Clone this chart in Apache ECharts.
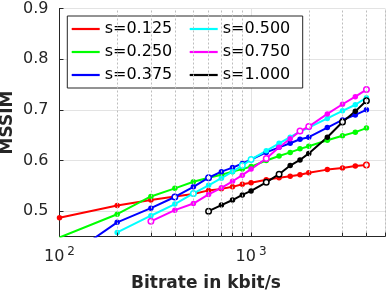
<!DOCTYPE html>
<html><head><meta charset="utf-8">
<script src="https://cdn.jsdelivr.net/npm/echarts@6/dist/echarts.min.js"></script>
<style>html,body{margin:0;padding:0;background:#fff}#c{width:386px;height:293px}</style>
</head><body><div id="c"></div>
<script>
// ---------- data ----------
const seriesNames = ['s=0.125','s=0.250','s=0.375','s=0.500','s=0.750','s=1.000'];
const seriesColors = ['#ff0000','#00ff00','#0000ff','#00ffff','#ff00ff','#000000'];
const legendOrder = ['s=0.125','s=0.500','s=0.250','s=0.750','s=0.375','s=1.000'];

const bitrates125 = [100,200,300,400,500,600,700,800,900,1000,1200,1400,1600,1800,2000,2500,3000,3500,4000];
const mssim125    = [0.487,0.511,0.522,0.529,0.534,0.541,0.544,0.548,0.553,0.556,0.562,0.566,0.569,0.572,0.576,0.582,0.585,0.589,0.591];
const hollow125   = [4000];

const bitrates250 = [100,200,300,400,500,600,700,800,900,1000,1200,1400,1600,1800,2000,2500,3000,3500,4000];
const mssim250    = [0.448,0.494,0.529,0.545,0.558,0.566,0.572,0.578,0.583,0.588,0.600,0.609,0.616,0.623,0.628,0.640,0.649,0.656,0.664];
const hollow250   = [];

const bitrates375 = [100,200,300,400,500,600,700,800,900,1000,1200,1400,1600,1800,2000,2500,3000,3500,4000];
const mssim375    = [0.399,0.478,0.506,0.528,0.548,0.566,0.578,0.586,0.594,0.602,0.616,0.626,0.634,0.642,0.646,0.665,0.680,0.690,0.700];
const hollow375   = [400,600];

const bitrates500 = [200,300,400,500,600,700,800,900,1000,1200,1400,1600,1800,2000,2500,3000,3500,4000];
const mssim500    = [0.458,0.491,0.514,0.535,0.551,0.565,0.578,0.590,0.602,0.619,0.634,0.646,0.657,0.665,0.683,0.698,0.710,0.724];
const hollow500   = [500,900,1000];

const bitrates750 = [300,400,500,600,700,800,900,1000,1200,1400,1600,1800,2000,2500,3000,3500,4000];
const mssim750    = [0.480,0.502,0.515,0.533,0.546,0.559,0.571,0.583,0.604,0.626,0.643,0.658,0.667,0.692,0.711,0.726,0.740];
const hollow750   = [300,1200,1800,2000,4000];

const bitrates1000 = [600,700,800,900,1000,1200,1400,1600,1800,2000,2500,3000,3500,4000];
const mssim1000    = [0.500,0.512,0.522,0.532,0.540,0.557,0.573,0.590,0.601,0.614,0.646,0.676,0.697,0.718];
const hollow1000   = [600,1200,1400,3000,4000];

const minorBitrates = [200,300,400,500,600,700,800,900,2000,3000,4000,5000];
const xRange = [100, 5000];
const yRange = [0.45, 0.9];

// ---------- chart ----------
const groups = [
  [bitrates125, mssim125, hollow125],
  [bitrates250, mssim250, hollow250],
  [bitrates375, mssim375, hollow375],
  [bitrates500, mssim500, hollow500],
  [bitrates750, mssim750, hollow750],
  [bitrates1000, mssim1000, hollow1000]
];
const TXT = '#262626';
const FONT = 'DejaVu Sans';

const dataSeries = groups.map((g, k) => ({
  type: 'line',
  name: seriesNames[k],
  z: 3,
  clip: true,
  symbol: 'circle',
  symbolSize: 5.5,
  showSymbol: true,
  animation: false,
  silent: true,
  lineStyle: { width: 2, color: seriesColors[k] },
  itemStyle: { color: seriesColors[k] },
  data: g[0].map((x, i) => g[2].includes(x)
    ? { value: [x, g[1][i]], symbolSize: 5.5, itemStyle: { color: '#ffffff', borderColor: seriesColors[k], borderWidth: 1.5 } }
    : { value: [x, g[1][i]] })
}));

const helperSeries = [
  {
    type: 'line', name: 'minorGrid', data: [], z: 1, silent: true, animation: false,
    markLine: {
      silent: true, animation: false, symbol: 'none', label: { show: false },
      lineStyle: { color: '#bdbdbd', width: 1, type: [2, 2] },
      data: minorBitrates.map(v => ({ xAxis: v }))
    }
  },
  {
    type: 'line', name: 'minorTicks', data: [], z: 2, silent: true, animation: false,
    markLine: {
      silent: true, animation: false, symbol: 'none', label: { show: false },
      lineStyle: { color: TXT, width: 1, type: 'solid' },
      data: minorBitrates.map(v => [{ coord: [v, yRange[0]] }, { coord: [v, yRange[0] + 0.0075] }])
    }
  }
];

const option = {
  animation: false,
  backgroundColor: '#ffffff',
  grid: { left: 59.5, right: 1, top: 8.5, bottom: 56.5, containLabel: false, outerBoundsMode: 'none' },
  legend: {
    data: legendOrder,
    left: 67.3, top: 16, width: 240,
    orient: 'horizontal',
    icon: 'rect', itemWidth: 28, itemHeight: 2.2, itemGap: 6,
    padding: [4.5, 1, 4.5, 4.4],
    backgroundColor: '#ffffff', borderColor: TXT, borderWidth: 1, borderRadius: 0,
    selectedMode: false,
    textStyle: { fontFamily: FONT, fontSize: 16, color: '#000', width: 79, lineHeight: 17 }
  },
  xAxis: {
    type: 'log', logBase: 10, min: xRange[0], max: xRange[1],
    axisLine: { show: true, onZero: false, lineStyle: { color: TXT, width: 1 } },
    axisTick: { show: true, inside: true, length: 4, lineStyle: { color: TXT } },
    axisLabel: {
      margin: 12,
      formatter: v => {
        const e = Math.round(Math.log10(v));
        return Math.abs(Math.pow(10, e) - v) < 1e-6 * v ? '{b|10}{s|' + e + '}' : '';
      },
      rich: {
        b: { fontFamily: FONT, fontSize: 16, color: TXT, lineHeight: 16 },
        s: { fontFamily: FONT, fontSize: 12, color: TXT, lineHeight: 12, padding: [0, 0, 9, 3] }
      }
    },
    splitLine: { show: true, lineStyle: { color: '#e3e3e3', width: 1 } }
  },
  yAxis: {
    type: 'value', min: yRange[0], max: yRange[1], splitNumber: 5,
    axisLine: { show: true, onZero: false, lineStyle: { color: TXT, width: 1 } },
    axisTick: { show: true, inside: true, length: 4, lineStyle: { color: TXT } },
    axisLabel: { fontFamily: FONT, fontSize: 16, color: TXT, margin: 11, showMinLabel: false },
    splitLine: { show: true, lineStyle: { color: '#e3e3e3', width: 1 } }
  },
  graphic: [
    { type: 'text', x: 206, y: 283.5, silent: true,
      style: { text: 'Bitrate in kbit/s', fontFamily: FONT, fontWeight: 'bold', fontSize: 17, fill: TXT, align: 'center', verticalAlign: 'middle' } },
    { type: 'text', x: 8, y: 122.5, rotation: Math.PI / 2, silent: true,
      style: { text: 'MSSIM', fontFamily: FONT, fontWeight: 'bold', fontSize: 17, fill: TXT, align: 'center', verticalAlign: 'middle' } }
  ],
  series: helperSeries.concat(dataSeries)
};

const chart = echarts.init(document.getElementById('c'), null, { renderer: 'canvas' });
chart.setOption(option);
</script>
</body></html>
